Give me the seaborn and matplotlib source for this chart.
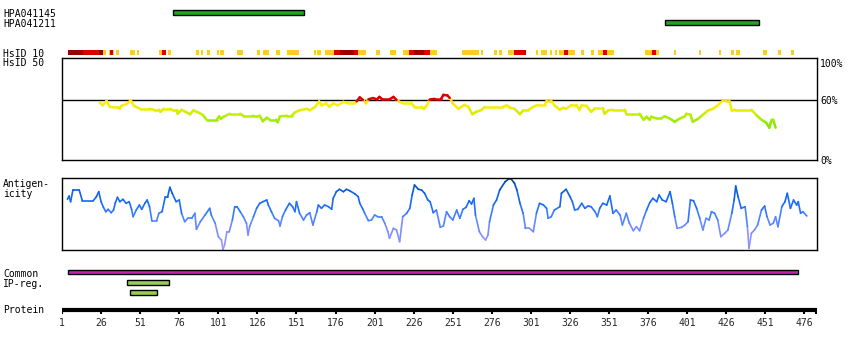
import numpy as np
import pandas as pd
import matplotlib
matplotlib.use("Agg")
import matplotlib.pyplot as plt
from matplotlib.colors import LinearSegmentedColormap
import seaborn as sns

# ---------------- data ----------------
protein_length = 484
tick_positions = [1, 26, 51, 76, 101, 126, 151, 176, 201, 226, 251, 276, 301, 326, 351, 376, 401, 426, 451, 476]

antibody_names = ["HPA041145", "HPA041211"]
antibody_start = [72, 387]
antibody_end = [156, 447]

# HsID 10 identity blocks: start, end, level (0 = moderate, 1 = high, 2 = very high)
hsid10_start = [5, 14.2, 20.6, 21, 24.7, 27, 31.2, 31.7, 33.8, 35.5, 44.5, 49, 63, 64.9, 68.6, 86.7, 90, 93.9,
                100.1, 102, 112.9, 125.7, 129.5, 138, 145, 162.3, 164.2, 169.4, 175.1, 178.7, 187.7, 190.3,
                201.8, 210.7, 219, 222.9, 226.1, 232.5, 236.3, 256.8, 268.9, 277.2, 280.8, 286.2, 290, 304.1,
                307.3, 313, 316.2, 318.8, 322, 324.5, 332.8, 339.2, 343.7, 346.9, 349.5, 373.8, 378.3, 380.9,
                392.3, 408.3, 421.1, 428.7, 432, 449.2, 458.8, 467.1]
hsid10_end = [14.2, 20.6, 21, 24.7, 27, 29.1, 31.7, 33.8, 34.2, 37.3, 47.7, 50, 64.9, 67.3, 70.5, 88.4, 91, 95.6,
              101.4, 104.6, 116.7, 127.4, 133.2, 140.2, 152.5, 163.6, 166.4, 175.1, 178.7, 187.7, 190.3, 195.4,
              204.3, 214.6, 222.9, 226.1, 232.5, 236.3, 240.8, 267.6, 270.6, 279.6, 282.3, 290, 297.7, 305.3,
              311.5, 314.3, 317.5, 322, 324.5, 329.5, 334.7, 341.6, 346.9, 349.5, 353.9, 378.3, 380.9, 382.8,
              393.6, 409.6, 422.8, 430.7, 434.5, 451.8, 460.7, 469]
hsid10_level = [2, 1, 0, 1, 2, 0, 0, 1, 0, 0, 0, 0, 0, 1, 0, 0, 0, 0,
                0, 0, 0, 0, 0, 0, 0, 0, 0, 0, 1, 2, 1, 0,
                0, 0, 0, 1, 2, 1, 0, 0, 0, 0, 0, 0, 1, 0,
                0, 0, 0, 0, 1, 0, 0, 0, 0, 1, 0, 0, 1, 0,
                0, 0, 0, 0, 0, 0, 0, 0]

# HsID 50 identity (%)
hsid50_res = [25, 27, 29.5, 31.5, 34, 37, 38, 39, 42, 45, 47, 51, 57, 60, 63, 64, 66, 70, 72, 74.5, 75, 77.5, 80,
              83, 85, 88, 91, 93.5, 100, 101.5, 102.5, 105, 108.5, 115, 117, 123, 125.5, 127.5, 129.5, 132, 134,
              138, 139, 140.5, 145, 148, 150, 153, 157.5, 159.5, 163, 165.5, 167, 170, 172, 174.5, 177.5, 181,
              184, 188, 189.5, 191.5, 193.5, 195.5, 197, 200, 202.5, 204, 206, 210.5, 213, 215, 217, 219, 224.5,
              226.5, 231, 232.5, 234.5, 236, 237, 239.5, 243.5, 245, 247.5, 249, 251, 254.5, 256.5, 258.5, 261,
              263.5, 266, 269, 271.5, 283, 285.5, 287.5, 290.5, 294, 296, 299, 302.5, 305.5, 310, 311, 314, 316,
              319.5, 321.5, 323.5, 327, 330, 332, 333.5, 336.5, 339.5, 342, 347, 348, 350.5, 353.5, 361, 362,
              370.5, 373, 375, 377, 378, 381, 384.5, 386.5, 389.5, 393, 396, 399.5, 400.5, 403, 404.5, 408, 411,
              414, 417.5, 420.5, 424, 426, 428, 429.5, 431.5, 442, 445, 448.5, 451.5, 453.5, 455, 456, 457.5]
hsid50_val = [58, 55, 59.5, 53.5, 53, 53, 51.5, 54.5, 56, 60, 54.5, 51.5, 51.5, 50.5, 50.5, 48.5, 51.5, 51.5, 50,
              50, 46.5, 50.5, 48.5, 46, 50, 48, 45.5, 40.5, 40.5, 44, 41.5, 44, 46.5, 46.5, 44.5, 44.5, 43.5,
              44.5, 39, 42.5, 40.5, 40.5, 38, 44, 44.5, 44.5, 48, 50, 51.5, 50, 53.5, 59, 55, 57, 53.5, 57, 55,
              58.5, 57, 57, 59, 63, 60.5, 57, 61, 62.3, 61, 63.5, 61, 61, 63.5, 60.5, 58.5, 57, 57, 53.5, 53.5,
              51.5, 55, 60.5, 61, 61.5, 61.5, 65.5, 65, 62.5, 57, 51.5, 53.5, 55.5, 53.5, 46, 48.5, 50, 53.5,
              53.5, 55, 52.5, 51.5, 46, 50, 50, 53.5, 55.5, 55.5, 59.5, 59.5, 55, 50.5, 52.5, 51.5, 55.5, 55.5,
              50.5, 55, 54.5, 48.5, 52, 52, 46.5, 50, 50.5, 50.5, 46.5, 46.5, 40.5, 43.5, 40.5, 43.5, 42, 42,
              44, 42, 38.5, 41.5, 44, 46.5, 45.5, 38.5, 41.5, 45.5, 49.5, 51.5, 55, 60, 59.5, 59.5, 49.5, 50.5,
              50.5, 45.5, 40.5, 37.5, 32.5, 40.5, 40.5, 32.5]

# Antigenicity (arbitrary units)
antigen_res = [4.5, 5.5, 6.5, 8, 12, 14, 21, 23, 24.5, 26, 27.5, 29, 30.5, 32.5, 34, 35, 36.5, 38, 40, 42, 44, 45.5,
               46.5, 48.5, 50.5, 52, 54, 55.5, 57, 58.5, 61.5, 63, 65, 67, 68.5, 70, 71.5, 74, 76, 77.5, 79.5,
               81.5, 84, 86, 87, 89.5, 92.5, 95.5, 96.5, 99, 101, 103, 104, 105, 106.5, 108, 110, 111.5, 113, 115,
               117, 119, 120, 121, 123.5, 125.5, 127.5, 129.5, 132, 133, 135, 137, 139.5, 140.5, 142, 144, 146.5,
               148.5, 150, 151, 153, 155.5, 157.5, 159.5, 161.5, 164, 165, 167, 169, 171.5, 173.5, 174.5, 176.5,
               178.5, 181, 183, 185, 188.5, 190.5, 191.5, 193.5, 194.5, 197, 199, 201, 203, 205.5, 207.5, 209.5,
               210.5, 213, 215, 217, 219, 221.5, 223.5, 225, 226.5, 229, 231, 233, 235, 236.5, 238.5, 240.5, 243,
               245, 247, 249, 251, 253.5, 255.5, 257.5, 259.5, 261.5, 263, 264.5, 265.5, 268, 270, 272, 273.5,
               274.5, 277, 279, 281, 284.5, 286.5, 288.5, 290.5, 292, 294, 296, 297.5, 300, 302.5, 304.5, 306.5,
               309, 311, 312, 314, 316, 319.5, 320.5, 323.5, 326, 327.5, 329, 331, 333.5, 335.5, 337.5, 339.5, 342,
               343.5, 345, 347, 349.5, 351.5, 353.5, 355.5, 358, 359.5, 362, 364, 366.5, 368.5, 370.5, 373, 375,
               377, 379, 381.5, 383, 385, 387.5, 390, 391.5, 393, 394.5, 397.5, 399.5, 401.5, 403, 405, 407, 409,
               411, 413, 415, 416.5, 418.5, 420.5, 422.5, 425, 427, 429.5, 431, 432, 433.5, 435.5, 438, 439.5,
               440.5, 442, 444, 446, 448.5, 450.5, 452, 454, 456, 457.5, 459, 461.5, 463.5, 465, 467, 469, 471,
               472, 473.5, 475, 477.5]
antigen_val = [50.7, 54, 48.3, 60, 60, 49.3, 49.3, 53.3, 58.3, 48.3, 42.7, 38.3, 40.7, 37.3, 40, 46.7, 52.7, 48.3,
               50.7, 46.7, 48.3, 40.7, 33.3, 40, 45, 40.7, 46.7, 50, 43.3, 29.3, 29.3, 36.7, 38.3, 52.7, 52.7, 62.7,
               56.7, 48.3, 50, 36.7, 28.3, 31.7, 31.7, 36.7, 20.7, 28.3, 35, 41.7, 35, 26.7, 13.3, 10, 0.5, 5, 18.3,
               18.3, 30, 43.3, 43.3, 38.3, 33.3, 26.7, 15, 23.3, 33.3, 41.7, 46.7, 48.3, 50, 45, 38.3, 31.7, 29.3,
               24, 33.3, 40, 46.7, 43.3, 38.3, 48.3, 36.7, 30, 35, 37.3, 25, 38.3, 45, 41.7, 45, 43.3, 40.7, 51.7,
               58.3, 60.7, 58.3, 60.7, 59.3, 56, 53.3, 46.7, 40.7, 37.3, 29.3, 30, 35, 33.3, 33.3, 26.7, 18.3, 11.7,
               21.7, 20, 8.3, 33.3, 36.7, 41.7, 55, 65, 60.7, 60, 56.7, 50, 48.3, 37.3, 40, 22.7, 24, 38.3, 33.3,
               30, 40, 31.7, 40.7, 42.7, 49.3, 46, 51.7, 35, 18.3, 13.3, 10, 15, 28.3, 45, 50, 60, 68.3, 70.7,
               70.7, 66.7, 60, 46.7, 36.7, 21.7, 21.7, 18.3, 36.7, 46.7, 45, 41.7, 31.7, 33.3, 40, 43.3, 56.7,
               60.7, 53.3, 48.3, 40, 40.7, 46.7, 41.7, 44, 43.3, 38.3, 33.3, 41.7, 46.7, 45, 54, 36.7, 40, 35, 25,
               36.7, 26.7, 19.3, 23.3, 19.3, 31.7, 40, 47.3, 51.7, 48.3, 55, 50, 48.3, 58.3, 46.7, 33.3, 21.7,
               22.7, 25, 28.3, 50, 49.3, 41.7, 31.7, 20, 31.7, 30, 38.3, 36.7, 30, 13.3, 16.7, 20, 36.7, 50, 64,
               53.3, 41.7, 43.3, 23.3, 1.7, 16.7, 20, 25, 40, 44, 33.3, 25, 26.7, 33.3, 23.3, 43.3, 48.3, 56.7,
               41.7, 50, 45, 48.3, 36.7, 38.3, 34]

common_start, common_end = [5], [472]
ipreg_start = [42.7, 44.7]
ipreg_end = [69.2, 62]

# ---------------- layout helpers (pixel based) ----------------
W, H = 850, 350
PX_L, PX_R = 62, 817
XMIN, XMAX = 1, protein_length

sns.set_style("white")
plt.rcParams["font.family"] = ["DejaVu Sans Mono", "DejaVu Sans"]
FS = 7

fig = plt.figure(figsize=(W / 100, H / 100), dpi=100)


def add_panel(top, bottom):
    return fig.add_axes([PX_L / W, 1 - bottom / H, (PX_R - PX_L) / W, (bottom - top) / H])


def ftext(x, y, s, ha="left"):
    fig.text(x / W, 1 - y / H, s, ha=ha, va="baseline", fontsize=FS, color="black")


def segments_frame(xs, ys):
    rows = []
    for i in range(len(xs) - 1):
        c = 0.5 * (ys[i] + ys[i + 1])
        rows.append((i, xs[i], ys[i], c))
        rows.append((i, xs[i + 1], ys[i + 1], c))
    return pd.DataFrame(rows, columns=["seg", "res", "val", "c"])


# overlay axes in pixel y units for tracks
ov = add_panel(0, 350)
ov.set_xlim(XMIN, XMAX)
ov.set_ylim(350, 0)
ov.axis("off")

# antibody bars
ab_rows = [12.5, 22.5]
for i in range(len(antibody_names)):
    ov.barh(ab_rows[i], antibody_end[i] - antibody_start[i], left=antibody_start[i], height=4.5,
            color="#22a322", edgecolor="black", linewidth=1)

# HsID 10 blocks
lvl_colors = ["#ffcc22", "#dd0000", "#990000"]
ov.barh([52.3] * len(hsid10_start), np.array(hsid10_end) - np.array(hsid10_start), left=hsid10_start,
        height=5, color=[lvl_colors[l] for l in hsid10_level], linewidth=0)

# Common and IP-reg bars
ov.barh(272.3, common_end[0] - common_start[0], left=common_start[0], height=4,
        color="#cc22aa", edgecolor="black", linewidth=1)
ip_rows = [282.5, 292.5]
for i in range(len(ipreg_start)):
    ov.barh(ip_rows[i], ipreg_end[i] - ipreg_start[i], left=ipreg_start[i], height=4.2,
            color="#99cc55", edgecolor="black", linewidth=1)

# protein axis
ov.hlines(309.5, XMIN, XMAX, color="black", linewidth=3)
ov.vlines(tick_positions + [XMAX - 0.4], 309, 314, color="black", linewidth=1.5)
for t in tick_positions:
    ov.text(t, 326, str(t), ha="center", va="baseline", fontsize=FS)

# ---------------- HsID 50 panel ----------------
ax1 = add_panel(58.3, 160)
ax1.set_xlim(XMIN, XMAX)
ax1.set_ylim(0, 102.3)
ax1.axhline(60, color="black", linewidth=1, zorder=1)
hs_cmap = LinearSegmentedColormap.from_list(
    "hs", [(0.0, "#77dd00"), (0.25, "#99ee00"), (0.425, "#ccee00"), (0.55, "#eeee00"), (0.7, "#ffee11"),
           (0.745, "#ffdd22"), (0.755, "#dd0000"), (1.0, "#dd0000")])
df_hs = segments_frame(hsid50_res, hsid50_val)
sns.lineplot(data=df_hs, x="res", y="val", units="seg", estimator=None, hue="c", palette=hs_cmap,
             hue_norm=(30, 70), sort=False, legend=False, linewidth=1.8, ax=ax1, zorder=3)
ax1.set_xticks([])
ax1.set_yticks([])
ax1.set_xlabel("")
ax1.set_ylabel("")
for s in ax1.spines.values():
    s.set_color("black")
    s.set_linewidth(1)

# ---------------- Antigenicity panel ----------------
ax2 = add_panel(178.3, 250)
ax2.set_xlim(XMIN, XMAX)
ax2.set_ylim(0, 71.7)
ag_cmap = LinearSegmentedColormap.from_list(
    "ag", [(0.0, "#a09cff"), (0.3, "#7a8cff"), (0.45, "#4d85ff"), (0.6, "#1f6fff"), (0.8, "#0e62e8"),
           (0.9, "#0050c0"), (1.0, "#003f99")])
df_ag = segments_frame(antigen_res, antigen_val)
sns.lineplot(data=df_ag, x="res", y="val", units="seg", estimator=None, hue="c", palette=ag_cmap,
             hue_norm=(0, 71.7), sort=False, legend=False, linewidth=1.2, ax=ax2)
ax2.set_xticks([])
ax2.set_yticks([])
ax2.set_xlabel("")
ax2.set_ylabel("")
for s in ax2.spines.values():
    s.set_color("black")
    s.set_linewidth(1)

# ---------------- labels ----------------
ftext(3, 16.7, "HPA041145")
ftext(3, 26.7, "HPA041211")
ftext(3, 56.7, "HsID 10")
ftext(3, 66.3, "HsID 50")
ftext(3, 186.7, "Antigen-")
ftext(3, 196.7, "icity")
ftext(3, 276.7, "Common")
ftext(3, 286.7, "IP-reg.")
ftext(3, 313.3, "Protein")
ftext(820, 66.7, "100%")
ftext(820, 104.3, "60%")
ftext(820, 164, "0%")

fig.savefig("out.png", dpi=100)
